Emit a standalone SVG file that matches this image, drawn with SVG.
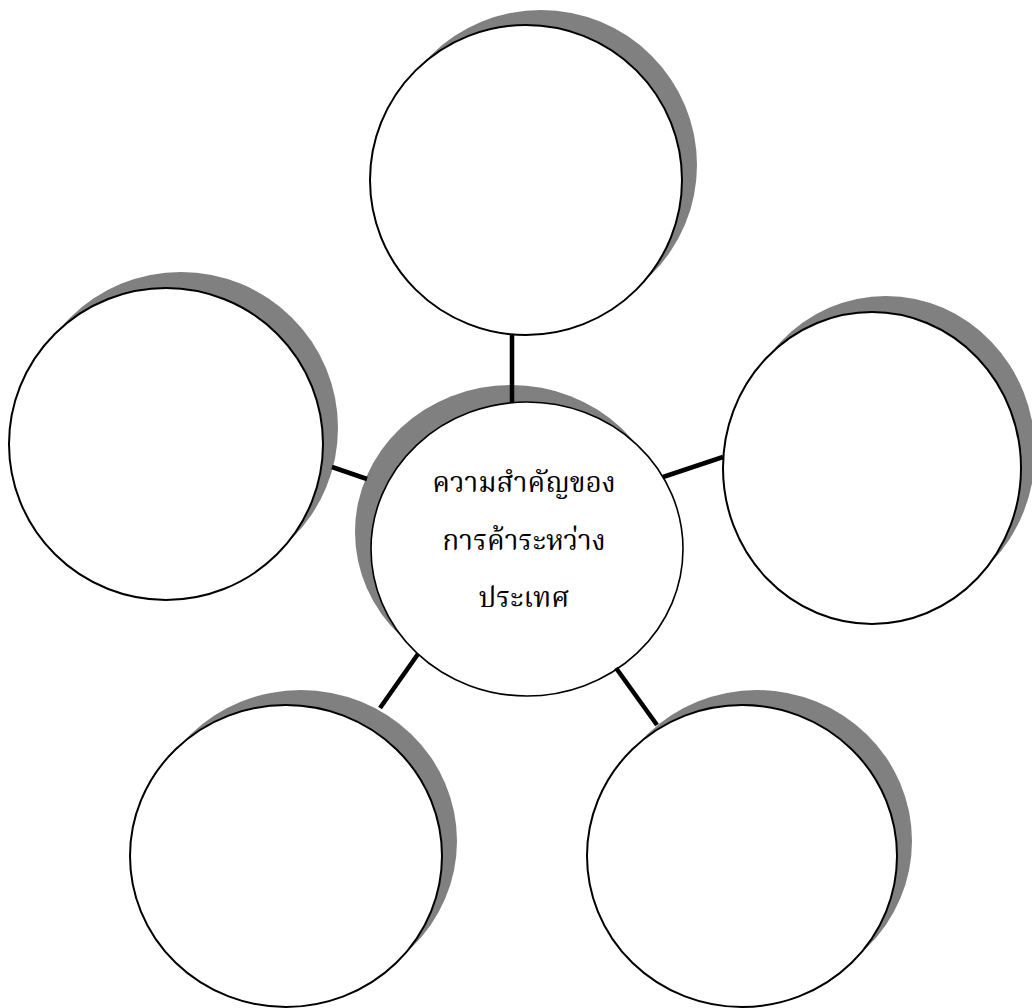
<svg xmlns="http://www.w3.org/2000/svg" width="1032" height="1008" viewBox="0 0 1032 1008">
<style>
.shadow{fill:#808080;stroke:none}
.node{fill:#ffffff;stroke:#000000;stroke-width:2}
.center{fill:#ffffff;stroke:#000000;stroke-width:1.6}
.conn{stroke:#000000;stroke-width:4.5;fill:none}
.label{font-family:"Noto Serif Thai","Noto Sans Thai","Liberation Serif","DejaVu Serif",serif;font-size:28px;fill:#000000;text-anchor:middle}
</style>
<rect width="1032" height="1008" fill="#ffffff"/>
<g id="node-top">
<ellipse class="shadow" cx="541" cy="165" rx="156" ry="155"/>
<ellipse class="node" cx="526" cy="180" rx="156" ry="155"/>
</g>
<g id="node-left">
<ellipse class="shadow" cx="181" cy="428" rx="157" ry="156"/>
<ellipse class="node" cx="166" cy="444" rx="157" ry="156"/>
</g>
<g id="node-right">
<ellipse class="shadow" cx="886" cy="452" rx="149" ry="156"/>
<ellipse class="node" cx="872" cy="468" rx="149" ry="156"/>
</g>
<g id="node-bottom-left">
<ellipse class="shadow" cx="301" cy="841" rx="156" ry="151"/>
<ellipse class="node" cx="286" cy="856" rx="156" ry="151"/>
</g>
<g id="node-bottom-right">
<ellipse class="shadow" cx="757" cy="841" rx="155" ry="151"/>
<ellipse class="node" cx="742" cy="856" rx="155" ry="151"/>
</g>
<g id="node-center">
<ellipse class="shadow" cx="511" cy="532" rx="156" ry="147"/>
<ellipse class="center" cx="527" cy="549" rx="156" ry="147"/>
<text class="label" x="524" y="492">ความสำคัญของ</text>
<text class="label" x="524" y="550">การค้าระหว่าง</text>
<text class="label" x="524" y="607">ประเทศ</text>
</g>
<g id="connectors">
<line class="conn" x1="512" y1="335" x2="512" y2="403"/>
<line class="conn" x1="332" y1="467" x2="367" y2="479"/>
<line class="conn" x1="663" y1="477" x2="723" y2="457"/>
<line class="conn" x1="418" y1="654" x2="380" y2="708"/>
<line class="conn" x1="616" y1="668" x2="657" y2="725"/>
</g>
</svg>
